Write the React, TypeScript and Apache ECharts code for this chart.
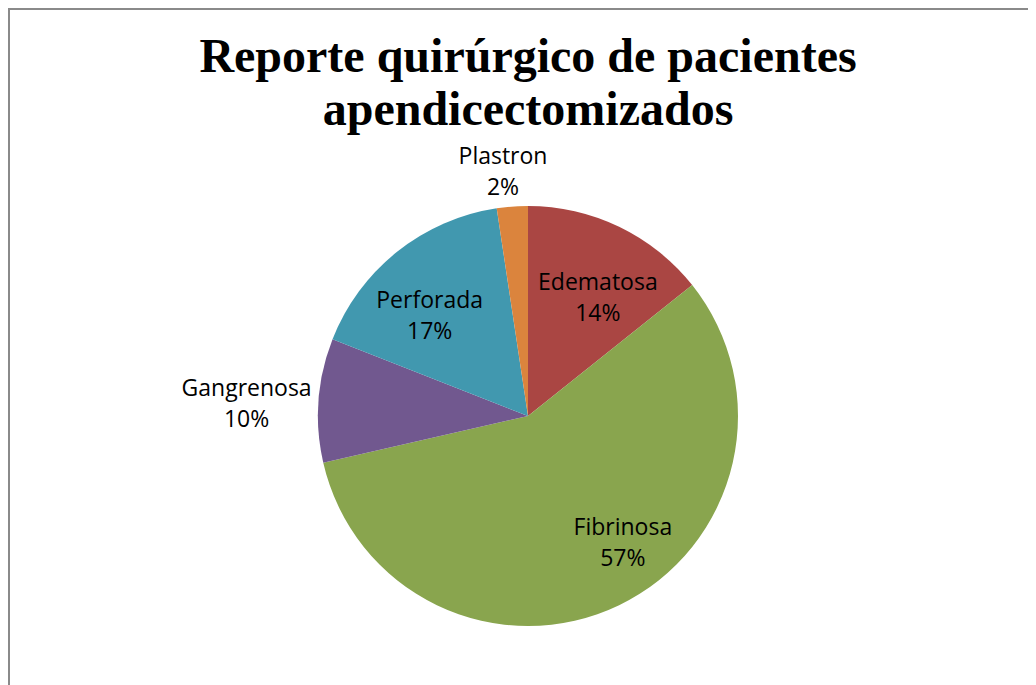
import React, { useEffect, useRef } from "react";
import * as echarts from "echarts";

const titleText = "Reporte quirúrgico de pacientes\napendicectomizados";
const categories = ["Edematosa", "Fibrinosa", "Gangrenosa", "Perforada", "Plastron"];
const counts = [6, 24, 4, 7, 1];
const colors = ["#AA4643", "#89A54E", "#71588F", "#4198AF", "#DB843D"];
const labelInside = [true, true, false, true, false];
// fine label nudges (pixels) to mimic the original "best fit" placement
const labelNudge: [number, number][] = [
  [23, -22],
  [48, 28],
  [-63, 2],
  [-31, -17],
  [-4, -32],
];

export default function App() {
  const ref = useRef<HTMLDivElement>(null);
  useEffect(() => {
    document.documentElement.style.overflow = "hidden";
    document.body.style.overflow = "hidden";
    if (!ref.current) return;
    const chart = echarts.init(ref.current, null, { renderer: "svg" });
    const data = categories.map((name, i) => ({
      name,
      value: counts[i],
      itemStyle: { color: colors[i] },
      label: labelInside[i] ? { position: "inside" } : { position: "outside" },
      labelLine: { show: false, length: 4, length2: 0 },
    }));
    chart.setOption({
      animation: false,
      backgroundColor: "#ffffff",
      title: {
        text: titleText,
        left: 513,
        textAlign: "center",
        top: 14,
        textStyle: {
          fontFamily: "Liberation Serif",
          fontWeight: "bold",
          fontSize: 48,
          lineHeight: 53,
          color: "#000000",
        },
      },
      series: [
        {
          type: "pie",
          center: [518, 406],
          radius: [0, 210],
          startAngle: 90,
          clockwise: true,
          percentPrecision: 0,
          avoidLabelOverlap: false,
          itemStyle: { borderWidth: 0 },
          label: {
            show: true,
            formatter: "{b}\n{d}%",
            fontFamily: "Open Sans",
            fontSize: 23,
            lineHeight: 31,
            color: "#000000",
            align: "center",
          },
          labelLayout: (params: any) => {
            const n = labelNudge[params.dataIndex] || [0, 0];
            return { dx: n[0], dy: n[1], align: "center" };
          },
          emphasis: { disabled: true },
          data,
        },
      ],
    });
    return () => chart.dispose();
  }, []);
  return (
    <div
      style={{
        width: 1100,
        height: 720,
        borderLeft: "2px solid #8a8a8a",
        borderTop: "2px solid #8a8a8a",
        boxSizing: "border-box",
        background: "#ffffff",
      }}
    >
      <div ref={ref} style={{ width: 1098, height: 718 }} />
    </div>
  );
}
